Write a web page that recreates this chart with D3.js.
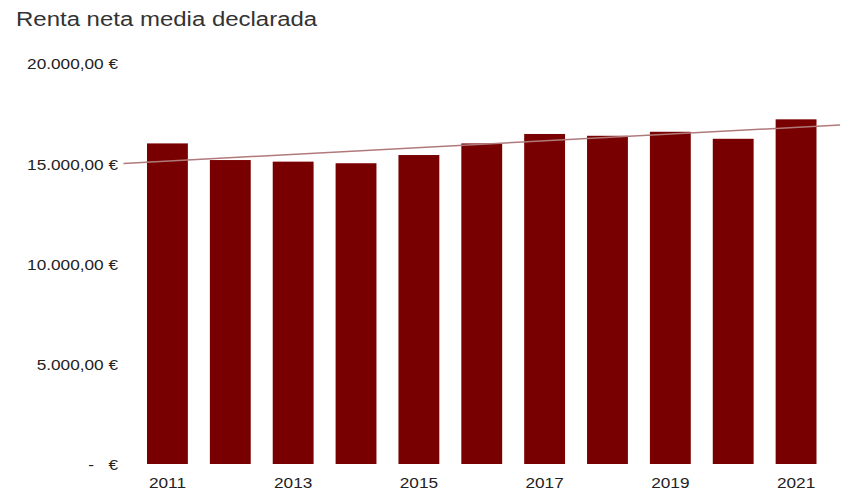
<!DOCTYPE html>
<html>
<head>
<meta charset="utf-8">
<script src="https://cdn.jsdelivr.net/npm/d3@7"></script>
<style>
  body { margin: 0; background: #fff; }
  text { font-family: "Liberation Sans", Arial, sans-serif; }
</style>
</head>
<body>
<div id="chart"></div>
<script>
var years = ["2011", "2012", "2013", "2014", "2015", "2016", "2017", "2018", "2019", "2020", "2021"];
var renta = [15990, 15160, 15080, 15000, 15410, 15990, 16460, 16370, 16570, 16220, 17190];
var yTicks = [0, 5000, 10000, 15000, 20000];
var xLabels = ["2011", "2013", "2015", "2017", "2019", "2021"];

var width = 856;
var height = 495;
var stretch = 1.23; // the reference text is drawn wider than normal

var svg = d3.select("#chart")
  .append("svg")
  .attr("width", width)
  .attr("height", height);

var x = d3.scaleBand()
  .domain(years)
  .range([136, 827.5])
  .paddingInner(0.35)
  .paddingOuter(0.175);

var y = d3.scaleLinear()
  .domain([0, 20000])
  .range([464, 63]);

var locale = d3.formatLocale({ decimal: ",", thousands: ".", grouping: [3], currency: ["", " €"] });
var fmt = locale.format(",.2f");
function euro(v) { return v === 0 ? "-   €" : fmt(v) + " €"; }

// title
svg.append("text")
  .attr("transform", "translate(16,26) scale(" + stretch + ",1)")
  .attr("font-size", "19.5px")
  .attr("fill", "#333")
  .text("Renta neta media declarada");

// bars
svg.selectAll(".bar")
  .data(renta)
  .enter().append("rect")
  .attr("class", "bar")
  .attr("x", function (d, i) { return x(years[i]); })
  .attr("y", function (d) { return y(d); })
  .attr("width", x.bandwidth())
  .attr("height", function (d) { return y(0) - y(d); })
  .attr("fill", "#780000");

// linear trend (least squares over the series)
var n = renta.length;
var mx = d3.mean(renta, function (d, i) { return i; });
var my = d3.mean(renta);
var sxy = d3.sum(renta, function (d, i) { return (i - mx) * (d - my); });
var sxx = d3.sum(renta, function (d, i) { return (i - mx) * (i - mx); });
var slope = sxy / sxx;
var icpt = my - slope * mx;
var ext = 0.7;
var cx = function (i) { return x(years[0]) + x.bandwidth() / 2 + i * x.step(); };
var trend = [-ext, n - 1 + ext].map(function (i) { return { i: i, v: icpt + slope * i }; });

svg.append("path")
  .datum(trend)
  .attr("fill", "none")
  .attr("stroke", "#b07a7a")
  .attr("stroke-width", 1.5)
  .attr("d", d3.line()
    .x(function (d) { return cx(d.i); })
    .y(function (d) { return y(d.v); }));

// y axis
var gY = svg.append("g")
  .attr("transform", "translate(124,0)")
  .call(d3.axisLeft(y).tickValues(yTicks).tickSize(0).tickFormat(euro));
gY.select(".domain").remove();
gY.selectAll("text")
  .attr("x", 0)
  .attr("dy", "0.35em")
  .attr("transform", "translate(-6,1) scale(" + stretch + ",1)")
  .attr("font-size", "14px")
  .attr("font-family", "Liberation Sans, Arial, sans-serif")
  .attr("fill", "#222")
  .style("white-space", "pre")
  .attr("xml:space", "preserve");

// x axis, every other year labelled
var gX = svg.append("g")
  .attr("transform", "translate(0,464)")
  .call(d3.axisBottom(x).tickValues(xLabels).tickSize(0));
gX.select(".domain").remove();
gX.selectAll("text")
  .attr("y", 0)
  .attr("dy", "0.71em")
  .attr("transform", "translate(0,14) scale(" + stretch + ",1)")
  .attr("font-size", "14px")
  .attr("font-family", "Liberation Sans, Arial, sans-serif")
  .attr("fill", "#222");
</script>
</body>
</html>
